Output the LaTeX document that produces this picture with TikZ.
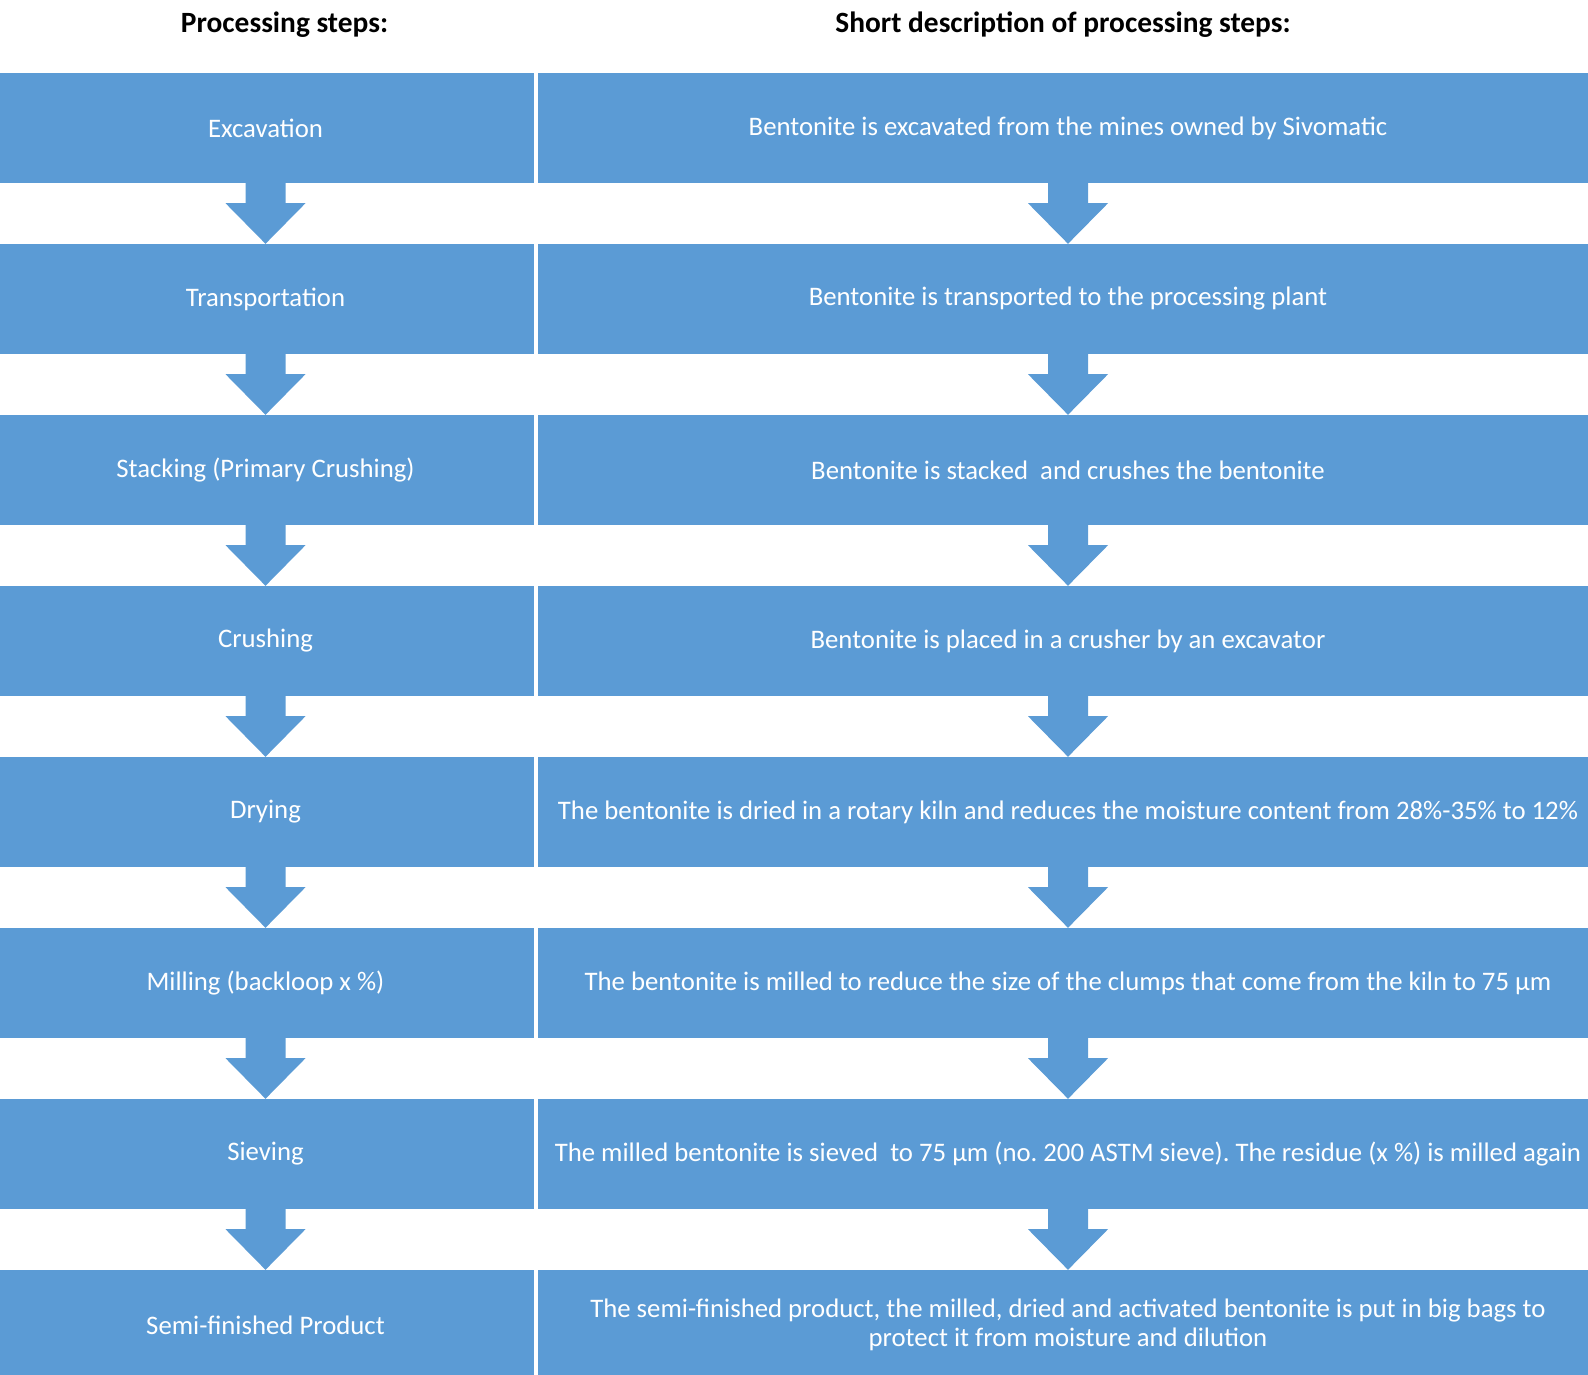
\documentclass[tikz,border=0pt]{standalone}
\usepackage{fontspec}
\setmainfont{Carlito}
\usetikzlibrary{calc}

\definecolor{stepblue}{HTML}{5B9BD5}
\frenchspacing

\begin{document}
\begin{tikzpicture}[
  x=1pt, y=-1pt,
  stepbox/.style={rectangle, fill=stepblue, minimum width=537pt,
                  minimum height=110pt, inner sep=0pt, text=white,
                  font=\fontsize{26.75}{29.5}\selectfont},
  descbox/.style={stepbox, minimum width=1061pt, align=center},
  title/.style={font=\fontsize{29.4}{34}\selectfont\bfseries},
  flow/.style={fill=stepblue},
]

% ---- page ----
\clip (0,0) rectangle (1588,1374);

% ---- headings ----
\node[title] (hsteps) at (284.5,25) {Processing steps:};
\node[title] (hdesc)  at (1063,25)  {Short description of processing steps:};

% ---- processing steps ----
\node[stepbox] (s1) at (265.5,128)  {Excavation};
\node[stepbox] (s2) at (265.5,299)  {Transportation};
\node[stepbox] (s3) at (265.5,470)  {Stacking (Primary Crushing)};
\node[stepbox] (s4) at (265.5,641)  {Crushing};
\node[stepbox] (s5) at (265.5,812)  {Drying};
\node[stepbox] (s6) at (265.5,983)  {Milling (backloop x \%)};
\node[stepbox] (s7) at (265.5,1154) {Sieving};
\node[stepbox] (s8) at (265.5,1325) {Semi-finished Product};

% ---- descriptions ----
\node[descbox] (d1) at (1068,128)  {Bentonite is excavated from the mines owned by Sivomatic};
\node[descbox] (d2) at (1068,299)  {Bentonite is transported to the processing plant};
\node[descbox] (d3) at (1068,470)  {Bentonite is stacked\ \ and crushes the bentonite};
\node[descbox] (d4) at (1068,641)  {Bentonite is placed in a crusher by an excavator};
\node[descbox] (d5) at (1068,812)  {The bentonite is dried in a rotary kiln and reduces the moisture content from 28\%-35\% to 12\%};
\node[descbox] (d6) at (1068,983)  {The bentonite is milled to reduce the size of the clumps that come from the kiln to 75 µm};
\node[descbox] (d7) at (1068,1154) {The milled bentonite is sieved\ \ to 75 µm (no. 200 ASTM sieve). The residue (x \%) is milled again};
\node[descbox] (d8) at (1068,1325) {The semi-finished product, the milled, dried and activated bentonite is put in big bags to\\protect it from moisture and dilution};

% ---- block arrows ----
\foreach \i/\j in {1/2,2/3,3/4,4/5,5/6,6/7,7/8}
  \foreach \c in {s,d}
    \fill[flow] ($(\c\i.south)+(-20,0)$) -- ($(\c\i.south)+(-20,20)$)
      -- ($(\c\i.south)+(-40,20)$) -- (\c\j.north)
      -- ($(\c\i.south)+(40,20)$) -- ($(\c\i.south)+(20,20)$)
      -- ($(\c\i.south)+(20,0)$) -- cycle;

\end{tikzpicture}
\end{document}
